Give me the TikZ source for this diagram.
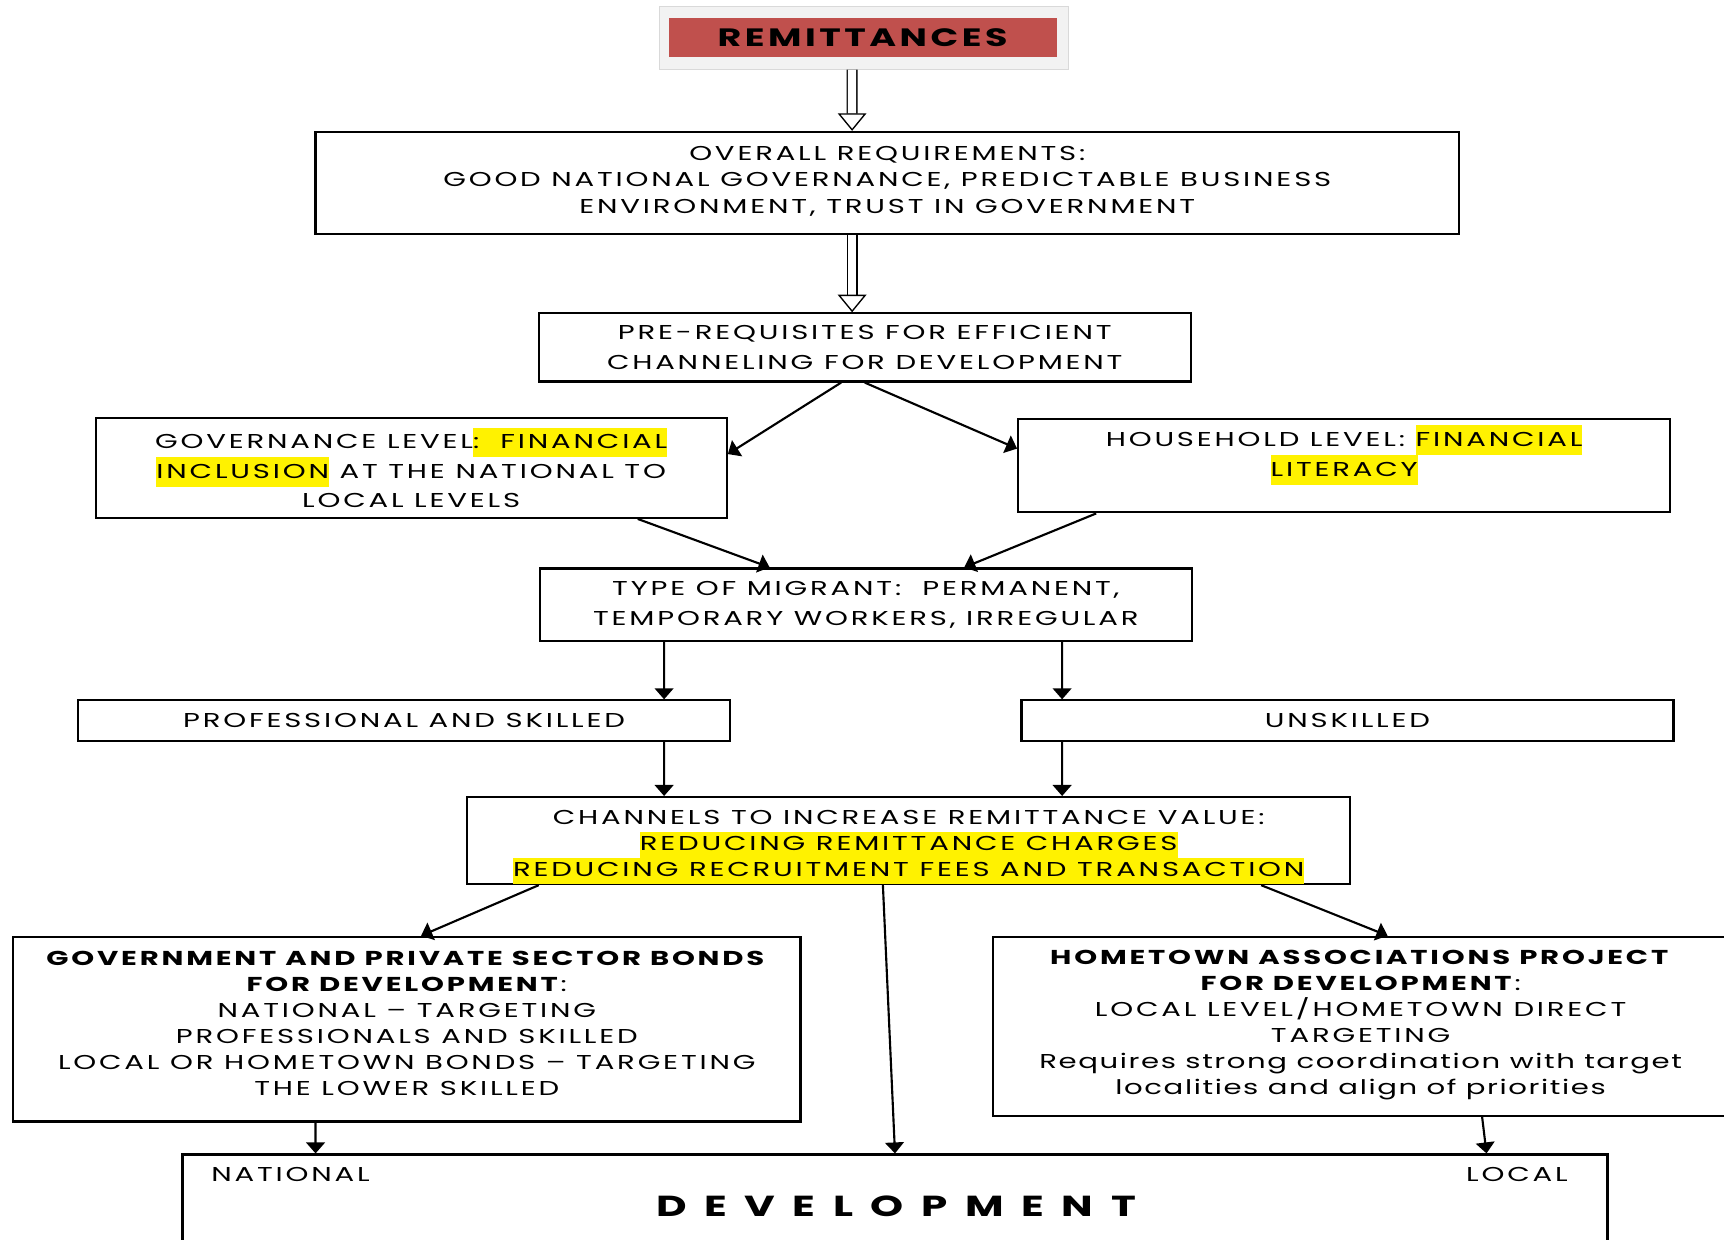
\documentclass[tikz,border=0pt]{standalone}
\usepackage{fontspec}
\setmainfont{Poppins}[FakeStretch=1.45, LetterSpace=14]
\usetikzlibrary{arrows.meta}

\definecolor{remitred}{HTML}{C0504D}
\definecolor{framegray}{HTML}{F2F2F2}
\newcommand{\hl}[1]{{\setlength{\fboxsep}{0pt}\colorbox{yellow}{\strut#1}}}
\newcommand{\tight}[1]{{\addfontfeatures{LetterSpace=8}#1}}

\begin{document}
\begin{tikzpicture}[
    box/.style = {draw, line width=1.1pt, align=center, inner sep=0pt, font=\fontsize{10.4}{13.5}\selectfont},
    tall/.style = {font=\fontsize{10.4}{15.4}\selectfont},
    arr/.style = {line width=1.1pt, -{Triangle[length=0.2cm, width=0.34cm]}},
    hollow/.style = {double, double distance=0.15cm, line width=0.7pt, -{Triangle[open, length=0.32cm, width=0.52cm]}}]

    \useasboundingbox[fill=white] (0,0) rectangle (31.36,-22.54);

    % Remittances (top)
    \node[fill=framegray, draw=black!15, minimum width=7.44cm, minimum height=1.14cm] (F) at (15.72,-0.69) {};
    \node[fill=remitred, minimum width=7.06cm, minimum height=0.72cm, font=\fontsize{13}{14}\selectfont\bfseries] (R) at (15.69,-0.68) {REMITTANCES};

    % Boxes
    \node[box, minimum width=20.8cm, minimum height=1.86cm] (O) at (16.14,-3.33)
        {OVERALL REQUIREMENTS:\\GOOD NATIONAL GOVERNANCE, PREDICTABLE BUSINESS\\ENVIRONMENT, TRUST IN GOVERNMENT\\[-10.2pt]\mbox{}};
    \node[box, tall, minimum width=11.86cm, minimum height=1.24cm] (P) at (15.73,-6.32)
        {PRE-REQUISITES FOR EFFICIENT\\CHANNELING FOR DEVELOPMENT};
    \node[box, tall, minimum width=11.48cm, minimum height=1.82cm] (G) at (7.48,-8.51)
        {GOVERNANCE LEVEL\hl{:\ \ FINANCIAL}\\\hl{INCLUSION} AT THE NATIONAL TO\\LOCAL LEVELS};
    \node[box, tall, minimum width=11.86cm, minimum height=1.70cm] (H) at (24.45,-8.47)
        {HOUSEHOLD LEVEL: \hl{FINANCIAL}\\\hl{LITERACY}\\\mbox{}};
    \node[box, tall, minimum width=11.86cm, minimum height=1.32cm] (T) at (15.75,-11.0)
        {TYPE OF MIGRANT:\ \ PERMANENT,\\TEMPORARY WORKERS, IRREGULAR};
    \node[box, minimum width=11.86cm, minimum height=0.74cm] (S) at (7.35,-13.11)
        {PROFESSIONAL AND SKILLED};
    \node[box, minimum width=11.86cm, minimum height=0.74cm] (U) at (24.51,-13.11)
        {UNSKILLED};
    \node[box, minimum width=16.06cm, minimum height=1.58cm] (C) at (16.53,-15.29)
        {\rule{0pt}{14pt}CHANNELS TO INCREASE REMITTANCE VALUE:\\\hl{REDUCING REMITTANCE CHARGES}\\\hl{REDUCING RECRUITMENT FEES AND TRANSACTION}};
    \node[box, minimum width=14.32cm, minimum height=3.36cm] (B) at (7.40,-18.72)
        {\textbf{GOVERNMENT AND PRIVATE SECTOR BONDS}\\\textbf{FOR DEVELOPMENT}:\\NATIONAL -- TARGETING\\PROFESSIONALS AND SKILLED\\LOCAL OR HOMETOWN BONDS -- TARGETING\\THE LOWER SKILLED\\[-0.26cm]\mbox{}};
    \node[box, minimum width=13.38cm, minimum height=3.26cm] (L) at (24.75,-18.67)
        {\textbf{HOMETOWN ASSOCIATIONS PROJECT}\\\textbf{FOR DEVELOPMENT}:\\LOCAL LEVEL/HOMETOWN DIRECT\\TARGETING\\\tight{Requires strong coordination with target}\\\tight{localities and align of priorities}\\[-0.32cm]\mbox{}};
    \node[box, minimum width=25.92cm, minimum height=1.8cm] (D) at (16.28,-21.9) {};
    \node[anchor=west, font=\fontsize{10.4}{12}\selectfont] (DN) at (3.72,-21.36) {NATIONAL};
    \node[anchor=east, font=\fontsize{10.4}{12}\selectfont] (DL) at (28.64,-21.36) {LOCAL};
    \node[font=\fontsize{15}{16}\selectfont\bfseries] (DD) at (16.3,-21.94)
        {D\kern.32cm E\kern.32cm V\kern.32cm E\kern.32cm L\kern.32cm O\kern.32cm P\kern.32cm M\kern.32cm E\kern.32cm N\kern.32cm T};

    % Hollow arrows
    \draw[hollow] ([xshift=-0.22cm]F.south) -- ([xshift=-0.64cm]O.north);
    \draw[hollow] ([xshift=-0.64cm]O.south) -- ([xshift=-0.23cm]P.north);

    % Connectors
    \draw[arr] ([xshift=-0.43cm]P.south) -- ([yshift=0.25cm]G.east);
    \draw[arr] (P.south) -- ([yshift=0.31cm]H.west);
    \draw[arr] ([xshift=4.12cm]G.south) -- ([xshift=-1.75cm]T.north);
    \draw[arr] ([xshift=-4.51cm]H.south) -- ([xshift=1.79cm]T.north);
    \draw[arr] ([xshift=-3.67cm]T.south) -- ([xshift=4.73cm]S.north);
    \draw[arr] ([xshift=3.57cm]T.south) -- ([xshift=-5.19cm]U.north);
    \draw[arr] ([xshift=4.73cm]S.south) -- ([xshift=-4.45cm]C.north);
    \draw[arr] ([xshift=-5.19cm]U.south) -- ([xshift=2.79cm]C.north);
    \draw[arr] ([xshift=-6.73cm]C.south) -- ([xshift=0.26cm]B.north);
    \draw[arr] ([xshift=-0.47cm]C.south) -- (D.north);
    \draw[arr] ([xshift=6.41cm]C.south) -- ([xshift=0.49cm]L.north);
    \draw[arr] ([xshift=-1.66cm]B.south) -- ([xshift=-10.54cm]D.north);
    \draw[arr] ([xshift=2.21cm]L.south) -- ([xshift=10.76cm]D.north);

\end{tikzpicture}
\end{document}
